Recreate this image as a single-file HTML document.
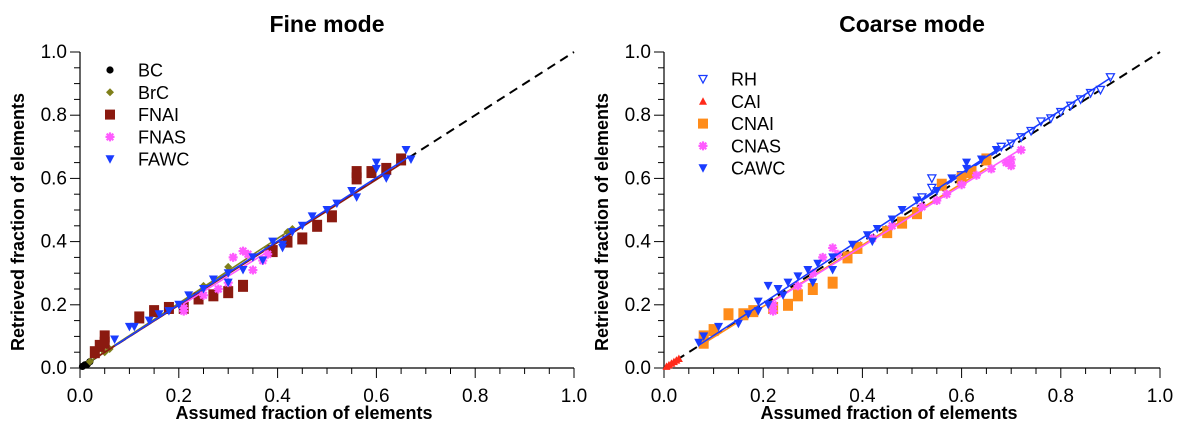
<!DOCTYPE html>
<html><head><meta charset="utf-8"><style>
html,body{margin:0;padding:0;background:#fff;}
svg{display:block;font-family:"Liberation Sans",Arial,sans-serif;}
</style></head><body>
<svg id="c" width="1183" height="433" viewBox="0 0 1183 433"></svg>
<script>
// ---------- data ----------
const ticks = [0, 0.2, 0.4, 0.6, 0.8, 1.0];
const tickLabels = ["0.0","0.2","0.4","0.6","0.8","1.0"];
const fineNames = ["BC","BrC","FNAI","FNAS","FAWC"];
const coarseNames = ["RH","CAI","CNAI","CNAS","CAWC"];
const BC = [[0.005,0.005],[0.01,0.01],[0.015,0.012],[0.02,0.02]];
const BrC = [[0.02,0.02],[0.05,0.05],[0.06,0.06],[0.25,0.26],[0.3,0.32],[0.38,0.38],[0.42,0.43],[0.43,0.44]];
const FNAI = [[0.03,0.05],[0.04,0.07],[0.05,0.1],[0.05,0.08],[0.12,0.16],[0.15,0.18],[0.18,0.19],[0.21,0.19],[0.24,0.22],[0.27,0.23],[0.3,0.24],[0.33,0.26],[0.39,0.37],[0.42,0.4],[0.45,0.41],[0.48,0.45],[0.51,0.48],[0.56,0.6],[0.56,0.62],[0.59,0.62],[0.62,0.63],[0.65,0.66]];
const FNAS = [[0.21,0.18],[0.21,0.19],[0.25,0.23],[0.28,0.25],[0.3,0.27],[0.31,0.35],[0.33,0.37],[0.34,0.36],[0.35,0.31],[0.37,0.34],[0.38,0.36]];
const FAWC = [[0.07,0.09],[0.1,0.13],[0.11,0.13],[0.14,0.15],[0.16,0.17],[0.18,0.18],[0.2,0.2],[0.22,0.23],[0.25,0.25],[0.27,0.28],[0.3,0.27],[0.3,0.3],[0.33,0.31],[0.35,0.35],[0.37,0.34],[0.39,0.4],[0.41,0.38],[0.41,0.39],[0.43,0.43],[0.45,0.45],[0.47,0.48],[0.5,0.5],[0.52,0.52],[0.55,0.56],[0.56,0.54],[0.6,0.65],[0.6,0.63],[0.62,0.6],[0.66,0.69],[0.67,0.66]];
const RH = [[0.52,0.54],[0.54,0.6],[0.54,0.57],[0.6,0.61],[0.65,0.66],[0.68,0.7],[0.7,0.71],[0.72,0.73],[0.74,0.75],[0.76,0.78],[0.78,0.79],[0.8,0.81],[0.82,0.83],[0.84,0.85],[0.86,0.87],[0.88,0.88],[0.9,0.92]];
const CAI = [[0.005,0.005],[0.01,0.01],[0.015,0.015],[0.02,0.02],[0.025,0.025],[0.03,0.03]];
const CNAI = [[0.08,0.08],[0.08,0.1],[0.1,0.12],[0.13,0.17],[0.16,0.17],[0.18,0.18],[0.22,0.19],[0.25,0.2],[0.27,0.23],[0.3,0.25],[0.34,0.27],[0.37,0.35],[0.39,0.38],[0.45,0.43],[0.48,0.46],[0.51,0.49],[0.56,0.58],[0.6,0.6],[0.62,0.62],[0.65,0.66]];
const CNAS = [[0.22,0.18],[0.22,0.2],[0.27,0.26],[0.3,0.3],[0.32,0.35],[0.34,0.38],[0.35,0.36],[0.42,0.41],[0.46,0.45],[0.52,0.51],[0.55,0.53],[0.57,0.55],[0.6,0.58],[0.63,0.61],[0.66,0.63],[0.69,0.65],[0.7,0.64],[0.7,0.66],[0.72,0.69]];
const CAWC = [[0.07,0.08],[0.08,0.1],[0.11,0.13],[0.15,0.14],[0.17,0.17],[0.19,0.18],[0.19,0.21],[0.21,0.2],[0.21,0.26],[0.23,0.25],[0.24,0.23],[0.25,0.27],[0.27,0.29],[0.29,0.31],[0.3,0.27],[0.31,0.33],[0.34,0.35],[0.34,0.31],[0.38,0.39],[0.41,0.42],[0.42,0.4],[0.43,0.44],[0.46,0.47],[0.48,0.5],[0.51,0.53],[0.55,0.56],[0.58,0.6],[0.61,0.65],[0.61,0.63],[0.64,0.66],[0.67,0.69]];

const NS = "http://www.w3.org/2000/svg";
const svg = document.getElementById('c');
function mk(tag, attrs, parent){
  const e = document.createElementNS(NS, tag);
  for (const k in attrs) e.setAttribute(k, attrs[k]);
  (parent||svg).appendChild(e);
  return e;
}
function marker(g, type, color, cx, cy){
  let e;
  if (type==='circle'){ e = mk('circle',{cx:cx,cy:cy,r:3.6,fill:color},g); }
  else if (type==='diamond'){ e = mk('path',{d:`M${cx} ${cy-4}L${cx+4} ${cy}L${cx} ${cy+4}L${cx-4} ${cy}Z`,fill:color},g); }
  else if (type==='square'){ e = mk('rect',{x:cx-5,y:cy-6,width:10,height:12,fill:color},g); }
  else if (type==='squareS'){ e = mk('rect',{x:cx-5,y:cy-5,width:10,height:10,fill:color},g); }
  else if (type==='star'){ e = mk('path',{d:`M${cx-4.5} ${cy}H${cx+4.5}M${cx} ${cy-4.5}V${cy+4.5}M${cx-3.3} ${cy-3.3}L${cx+3.3} ${cy+3.3}M${cx-3.3} ${cy+3.3}L${cx+3.3} ${cy-3.3}`,stroke:color,'stroke-width':2.2},g); }
  else if (type==='tridown'){ e = mk('path',{d:`M${cx-4.5} ${cy-4}H${cx+4.5}L${cx} ${cy+4.5}Z`,fill:color},g); }
  else if (type==='tridownOpen'){ e = mk('path',{d:`M${cx-4} ${cy-3.5}H${cx+4}L${cx} ${cy+4}Z`,fill:'#fff',stroke:color,'stroke-width':1.3},g); }
  else if (type==='triup'){ e = mk('path',{d:`M${cx-4} ${cy+3.5}H${cx+4}L${cx} ${cy-4}Z`,fill:color},g); }
  return e;
}
function panel(opt){
  const {x0,x1,y0,y1,title,name,series} = opt;
  const sx = v => x0 + v*(x1-x0);
  const sy = v => y0 - v*(y0-y1);
  const g = mk('g',{});
  
  
  const t = mk('text',{x:(x0+x1)/2,y:32,'text-anchor':'middle','font-size':23,'font-weight':'bold'},g);
  t.textContent = title;
  
  
  const ax = mk('path',{d:`M${x0} ${y1}V${y0}H${x1}`,stroke:'#000','stroke-width':1.2,fill:'none'},g);
  
  
  for (let i=0;i<=20;i++){
    const v=i/20, major = i%4===0;
    const L = major?10:6;
    mk('line',{x1:sx(v),x2:sx(v),y1:y0,y2:y0+L,stroke:'#000','stroke-width':1},g);
    mk('line',{x1:x0-L,x2:x0,y1:sy(v),y2:sy(v),stroke:'#000','stroke-width':1},g);
  }
  ticks.forEach((v,i)=>{
    const tx = mk('text',{x:sx(v),y:y0+34,'text-anchor':'middle','font-size':19},g);
    tx.textContent = tickLabels[i];
    
    
    const ty = mk('text',{x:x0-13,y:sy(v)+6,'text-anchor':'end','font-size':19},g);
    ty.textContent = tickLabels[i];
    
    
  });
  const xl = mk('text',{x:(x0+x1)/2-23,y:419,'text-anchor':'middle','font-size':18,'font-weight':'bold'},g);
  xl.textContent = 'Assumed fraction of elements';
  
  
  const yx = x0-56, yc=(y0+y1)/2+12;
  const yl = mk('text',{x:yx,y:yc,'text-anchor':'middle','font-size':18,'font-weight':'bold',transform:`rotate(-90 ${yx} ${yc})`},g);
  yl.textContent = 'Retrieved fraction of elements';
  
  
  const d = mk('line',{x1:sx(0),y1:sy(0),x2:sx(1),y2:sy(1),stroke:'#000','stroke-width':2,'stroke-dasharray':'9,6'},g);
  
  
  series.forEach((s,si)=>{
    const sg = mk('g',{},g);
    
    
    s.data.forEach(p=>{
      const m = marker(sg, s.type, s.color, sx(p[0]), sy(p[1]));
      
      
    });
    let num=0,den=0,mn=1,mx=0;
    s.data.forEach(p=>{num+=p[0]*p[1];den+=p[0]*p[0];mn=Math.min(mn,p[0]);mx=Math.max(mx,p[0]);});
    const k = num/den;
    const fl = mk('line',{x1:sx(mn),y1:sy(k*mn),x2:sx(mx),y2:sy(k*mx),stroke:s.color,'stroke-width':1.6},sg);
    
    
    const ly = opt.legY + si*22.3;
    const lg = mk('g',{},g);
    
    
    marker(lg, s.type==='square'?'squareS':s.type, s.color, opt.legX, ly);
    const lt = mk('text',{x:opt.legX+28,y:ly+6.5,'font-size':18},lg);
    lt.textContent = s.label;
  });
}
panel({x0:80,x1:574,y0:368,y1:52,title:'Fine mode',name:'fine-mode',legX:110,legY:70,
  series:[
    {label:fineNames[0],data:BC,type:'circle',color:'#000'},
    {label:fineNames[1],data:BrC,type:'diamond',color:'#7f7f1a'},
    {label:fineNames[2],data:FNAI,type:'square',color:'#8b1a10'},
    {label:fineNames[3],data:FNAS,type:'star',color:'#ff5aff'},
    {label:fineNames[4],data:FAWC,type:'tridown',color:'#1a3cff'}
  ]});
panel({x0:664,x1:1160,y0:368,y1:52,title:'Coarse mode',name:'coarse-mode',legX:703,legY:79,
  series:[
    {label:coarseNames[0],data:RH,type:'tridownOpen',color:'#1a3cff'},
    {label:coarseNames[1],data:CAI,type:'triup',color:'#ff2a1a'},
    {label:coarseNames[2],data:CNAI,type:'square',color:'#ff8c1a'},
    {label:coarseNames[3],data:CNAS,type:'star',color:'#ff5aff'},
    {label:coarseNames[4],data:CAWC,type:'tridown',color:'#1a3cff'}
  ]});
</script>
</body></html>
